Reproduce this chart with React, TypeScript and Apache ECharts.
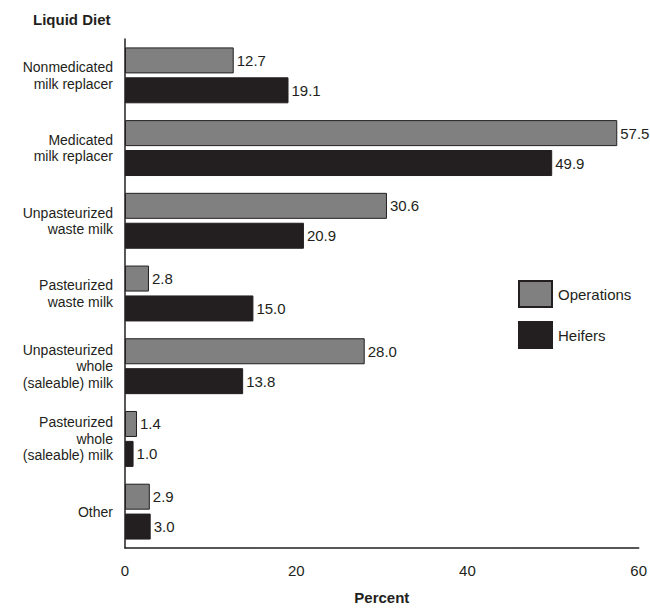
import React, { useEffect, useRef } from "react";
import * as echarts from "echarts";

const categories = [
  "Nonmedicated\nmilk replacer",
  "Medicated\nmilk replacer",
  "Unpasteurized\nwaste milk",
  "Pasteurized\nwaste milk",
  "Unpasteurized\nwhole\n(saleable) milk",
  "Pasteurized\nwhole\n(saleable) milk",
  "Other",
];
const operations = [12.7, 57.5, 30.6, 2.8, 28.0, 1.4, 2.9];
const heifers = [19.1, 49.9, 20.9, 15.0, 13.8, 1.0, 3.0];
const xTicks = [0, 20, 40, 60];

const FONT = "Liberation Sans, Arial, sans-serif";
const INK = "#231f20";

export default function App() {
  const ref = useRef<HTMLDivElement>(null);
  useEffect(() => {
    if (!ref.current) return;
    const chart = echarts.init(ref.current, null, { renderer: "svg" });
    const label = {
      show: true,
      position: "right" as const,
      distance: 3,
      color: INK,
      fontSize: 15,
      fontFamily: FONT,
      formatter: (p: any) => Number(p.value).toFixed(1),
    };
    chart.setOption({
      animation: false,
      textStyle: { fontFamily: FONT },
      title: [
        {
          text: "Liquid Diet",
          left: 33,
          top: 12,
          padding: 0,
          textStyle: { fontSize: 15, fontWeight: "bold", color: INK, fontFamily: FONT },
        },
      ],
      legend: {
        orient: "vertical",
        left: 518,
        top: 280,
        padding: 0,
        icon: "rect",
        itemWidth: 33,
        itemHeight: 26,
        itemGap: 13,
        textStyle: { fontSize: 15, color: INK, fontFamily: FONT, padding: [0, 0, 0, 1] },
        data: ["Operations", "Heifers"],
      },
      grid: { left: 125, right: 10, top: 39, bottom: 58, containLabel: false },
      xAxis: {
        type: "value",
        min: 0,
        max: 60,
        interval: 20,
        name: "Percent",
        nameLocation: "middle",
        nameGap: 42,
        nameTextStyle: { fontSize: 15, fontWeight: "bold", color: INK, fontFamily: FONT },
        axisLine: { show: true, lineStyle: { color: INK, width: 1.5 } },
        axisTick: { show: false },
        splitLine: { show: false },
        axisLabel: {
          fontSize: 15,
          color: INK,
          margin: 15,
          fontFamily: FONT,
          formatter: (v: number) => (xTicks.includes(v) ? String(v) : ""),
        },
      },
      yAxis: {
        type: "category",
        data: categories,
        inverse: true,
        axisLine: { show: true, lineStyle: { color: INK, width: 1.5 } },
        axisTick: { show: false },
        axisLabel: {
          fontSize: 14,
          color: INK,
          margin: 12,
          lineHeight: 16.5,
          align: "right",
          fontFamily: FONT,
        },
      },
      series: [
        {
          name: "Operations",
          type: "bar",
          data: operations,
          barWidth: 26,
          barGap: "15%",
          itemStyle: { color: "#808080", borderColor: INK, borderWidth: 1 },
          label,
        },
        {
          name: "Heifers",
          type: "bar",
          data: heifers,
          barWidth: 26,
          barGap: "15%",
          itemStyle: { color: INK, borderColor: INK, borderWidth: 1 },
          label,
        },
      ],
    });
    return () => chart.dispose();
  }, []);
  return (
    <div
      ref={ref}
      style={{ position: "fixed", left: 0, top: 0, width: 650, height: 610, background: "#fff" }}
    />
  );
}
